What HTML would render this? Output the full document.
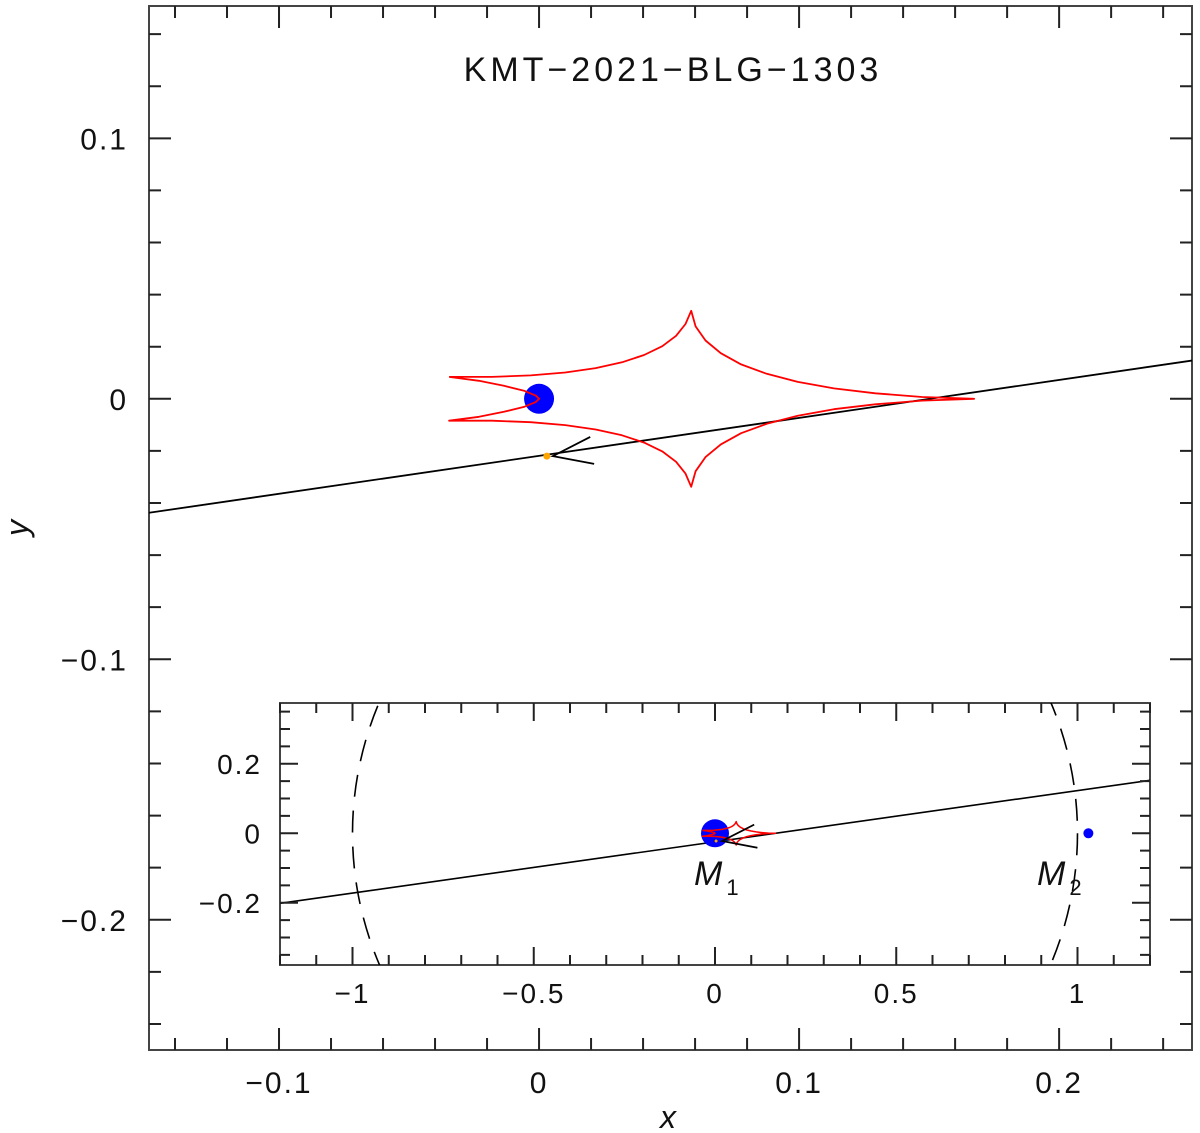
<!DOCTYPE html>
<html><head><meta charset="utf-8"><style>
html,body{margin:0;padding:0;background:#fff}
svg{display:block}
text{font-family:"Liberation Sans",sans-serif;fill:#111}
</style></head><body>
<svg id="c" width="1200" height="1133" viewBox="0 0 1200 1133" xmlns="http://www.w3.org/2000/svg"></svg>
<script>
// ---- data ----
const mainXTicks=[-0.1,0,0.1,0.2];
const mainXTickLabels=["\u22120.1","0","0.1","0.2"];
const mainYTicks=[0.1,0,-0.1,-0.2];
const mainYTickLabels=["0.1","0","\u22120.1","\u22120.2"];
const insetXTicks=[-1,-0.5,0,0.5,1];
const insetXTickLabels=["\u22121","\u22120.5","0","0.5","1"];
const insetYTicks=[0.2,0,-0.2];
const insetYTickLabels=["0.2","0","\u22120.2"];
// caustic outline (data units), upper half then lower half then inner fold
const causticX=[-0.0346,-0.0181,-0.0032,0.0101,0.0218,0.0319,0.0404,0.0474,0.0527,0.0563,0.0585,
0.0602,0.0640,0.0699,0.0777,0.0876,0.0995,0.1134,0.1293,0.1473,0.1673,
0.1473,0.1293,0.1134,0.0995,0.0876,0.0777,0.0699,0.0640,0.0602,0.0585,
0.0563,0.0527,0.0474,0.0404,0.0319,0.0218,0.0101,-0.0032,-0.0181,-0.0346,
-0.0231,-0.0135,-0.0058,-0.0012,0,-0.0012,-0.0058,-0.0135,-0.0231,-0.0346];
const causticY=[0.0084,0.0084,0.0090,0.0101,0.0118,0.0140,0.0168,0.0202,0.0242,0.0287,0.0338,
0.0278,0.0224,0.0175,0.0132,0.0096,0.0065,0.0040,0.0021,0.0007,0,
-0.0007,-0.0021,-0.0040,-0.0065,-0.0096,-0.0132,-0.0175,-0.0224,-0.0278,-0.0338,
-0.0287,-0.0242,-0.0202,-0.0168,-0.0140,-0.0118,-0.0101,-0.0090,-0.0084,-0.0084,
-0.0069,-0.0050,-0.0031,-0.0012,0,0.0012,0.0031,0.0050,0.0069,0.0084];
const trajSlope=0.1457, trajIntercept=-0.0219;
const insetTrajSlope=0.1475, insetTrajIntercept=-0.0245;
const sourcePos=[0.003,-0.022];
const m1Pos=[0,0], m2Pos=[1.03,0];
const ringRadius=1;

const svg=document.getElementById('c');
const NS="http://www.w3.org/2000/svg";
function el(tag,attrs,parent){const e=document.createElementNS(NS,tag);for(const k in attrs)e.setAttribute(k,attrs[k]);(parent||svg).appendChild(e);return e;}

const M={x0:149,x1:1192,y0:6,y1:1050,xmin:-0.15,xmax:0.2511,ymin:-0.25,ymax:0.1508};
const mx=v=>M.x0+(v-M.xmin)/(M.xmax-M.xmin)*(M.x1-M.x0);
const my=v=>M.y1-(v-M.ymin)/(M.ymax-M.ymin)*(M.y1-M.y0);
const I={x0:280,x1:1150,y0:703,y1:965,xmin:-1.2,xmax:1.2,ymin:-0.379,ymax:0.375};
const ix=v=>I.x0+(v-I.xmin)/(I.xmax-I.xmin)*(I.x1-I.x0);
const iy=v=>I.y1-(v-I.ymin)/(I.ymax-I.ymin)*(I.y1-I.y0);

function ticks(A,fx,fy,xStep,xMajor,yStep,yMajor,maj,min,g){
  let d="";
  const n0=Math.ceil(A.xmin/xStep-1e-6),n1=Math.floor(A.xmax/xStep+1e-6);
  for(let n=n0;n<=n1;n++){const v=n*xStep;const isM=Math.abs(v/xMajor-Math.round(v/xMajor))<1e-6;const L=isM?maj:min;const X=fx(v);
    d+=`M${X},${A.y1}v${-L}M${X},${A.y0}v${L}`;}
  const m0=Math.ceil(A.ymin/yStep-1e-6),m1=Math.floor(A.ymax/yStep+1e-6);
  for(let n=m0;n<=m1;n++){const v=n*yStep;const isM=Math.abs(v/yMajor-Math.round(v/yMajor))<1e-6;const L=isM?maj:min;const Y=fy(v);
    d+=`M${A.x0},${Y}h${L}M${A.x1},${Y}h${-L}`;}
  el('path',{d,stroke:'#222','stroke-width':2,fill:'none'},g);
}

const mainG=el('g',{});


el('rect',{x:M.x0,y:M.y0,width:M.x1-M.x0,height:M.y1-M.y0,fill:'none',stroke:'#444','stroke-width':2},mainG);
ticks(M,mx,my,0.02,0.1,0.02,0.1,22,12,mainG);
mainXTicks.forEach((v,i)=>{const t=el('text',{x:mx(v),y:1093,'font-size':30,'text-anchor':'middle','letter-spacing':'2'},mainG);t.textContent=mainXTickLabels[i];

});
mainYTicks.forEach((v,i)=>{const t=el('text',{x:128,y:my(v)+11,'font-size':30,'text-anchor':'end','letter-spacing':'2'},mainG);t.textContent=mainYTickLabels[i];

});
let t=el('text',{x:673,y:81,'font-size':34,'text-anchor':'middle','letter-spacing':'4'},mainG);t.textContent="KMT\u22122021\u2212BLG\u22121303";


t=el('text',{x:668,y:1128,'font-size':32,'text-anchor':'middle','font-style':'italic','font-family':'Liberation Serif'},mainG);t.textContent="x";


t=el('text',{x:0,y:0,'font-size':32,'text-anchor':'middle','font-style':'italic','font-family':'Liberation Serif',transform:'translate(28,528) rotate(-90)'},mainG);t.textContent="y";



const defs=el('defs',{});
const cp=el('clipPath',{id:'mc'},defs);el('rect',{x:M.x0,y:M.y0,width:M.x1-M.x0,height:M.y1-M.y0},cp);
const cp2=el('clipPath',{id:'ic'},defs);el('rect',{x:I.x0,y:I.y0,width:I.x1-I.x0,height:I.y1-I.y0},cp2);

function drawScene(g,fx,fy,A,slope,icpt,isInset){
  const tr=el('line',{x1:fx(A.xmin),y1:fy(icpt+slope*A.xmin),x2:fx(A.xmax),y2:fy(icpt+slope*A.xmax),stroke:'#000','stroke-width':isInset?1.6:1.8},g);
  
  
  const c=el('circle',{cx:fx(m1Pos[0]),cy:fy(m1Pos[1]),r:isInset?14:15,fill:'#0000ff'},g);
  
  
  const pts=causticX.map((x,i)=>fx(x).toFixed(1)+','+fy(causticY[i]).toFixed(1)).join(' ');
  const p=el('polyline',{points:pts,fill:'none',stroke:'#ff0000','stroke-width':isInset?1.5:1.8,'stroke-linejoin':'round'},g);
  
  
  const sx=fx(sourcePos[0]),sy=fy(sourcePos[1]);
  const s=el('circle',{cx:sx,cy:sy,r:isInset?1.5:3.5,fill:'#ffa500'},g);
  
  
  const L=isInset?36:42;
  const ang=Math.atan(slope*(isInset?(I.y1-I.y0)/(I.ymax-I.ymin)/((I.x1-I.x0)/(I.xmax-I.xmin)):1));
  const tx=sx+6,ty=sy;
  const a1=ang+0.33,a2=ang-0.33;
  const ar=el('path',{d:`M${tx+L*Math.cos(a1)},${ty-L*Math.sin(a1)}L${tx},${ty}L${tx+L*Math.cos(a2)},${ty-L*Math.sin(a2)}`,fill:'none',stroke:'#000','stroke-width':1.8},g);
  
  
}
const sceneM=el('g',{'clip-path':'url(#mc)'},mainG);
drawScene(sceneM,mx,my,M,trajSlope,trajIntercept,false);

const insetG=el('g',{});


el('rect',{x:I.x0,y:I.y0,width:I.x1-I.x0,height:I.y1-I.y0,fill:'#fff',stroke:'#444','stroke-width':2},insetG);
const sceneI=el('g',{'clip-path':'url(#ic)'},insetG);
const rx=ringRadius*(I.x1-I.x0)/(I.xmax-I.xmin), ry=ringRadius*(I.y1-I.y0)/(I.ymax-I.ymin);
const ring=el('ellipse',{cx:ix(0),cy:iy(0),rx,ry,fill:'none',stroke:'#000','stroke-width':1.6,'stroke-dasharray':'22 14'},sceneI);


drawScene(sceneI,ix,iy,I,insetTrajSlope,insetTrajIntercept,true);
const m2=el('circle',{cx:ix(m2Pos[0]),cy:iy(m2Pos[1]),r:5,fill:'#0000ff'},sceneI);


ticks(I,ix,iy,0.1,0.5,0.05,0.2,18,10,insetG);
insetXTicks.forEach((v,i)=>{const t=el('text',{x:ix(v),y:1003,'font-size':28,'text-anchor':'middle','letter-spacing':'2'},insetG);t.textContent=insetXTickLabels[i];

});
insetYTicks.forEach((v,i)=>{const t=el('text',{x:262,y:iy(v)+10,'font-size':28,'text-anchor':'end','letter-spacing':'2'},insetG);t.textContent=insetYTickLabels[i];

});
function mlabel(x,y,sub,name){const t=el('text',{x,y,'font-size':34,'font-style':'italic','font-family':'Liberation Serif'},insetG);t.textContent="M";
const s=el('tspan',{'font-size':22,'font-style':'normal',dx:4,dy:10},t);s.textContent=sub;

}
mlabel(694,885,"1","m1-label");
mlabel(1037,885,"2","m2-label");
</script>
</body></html>
